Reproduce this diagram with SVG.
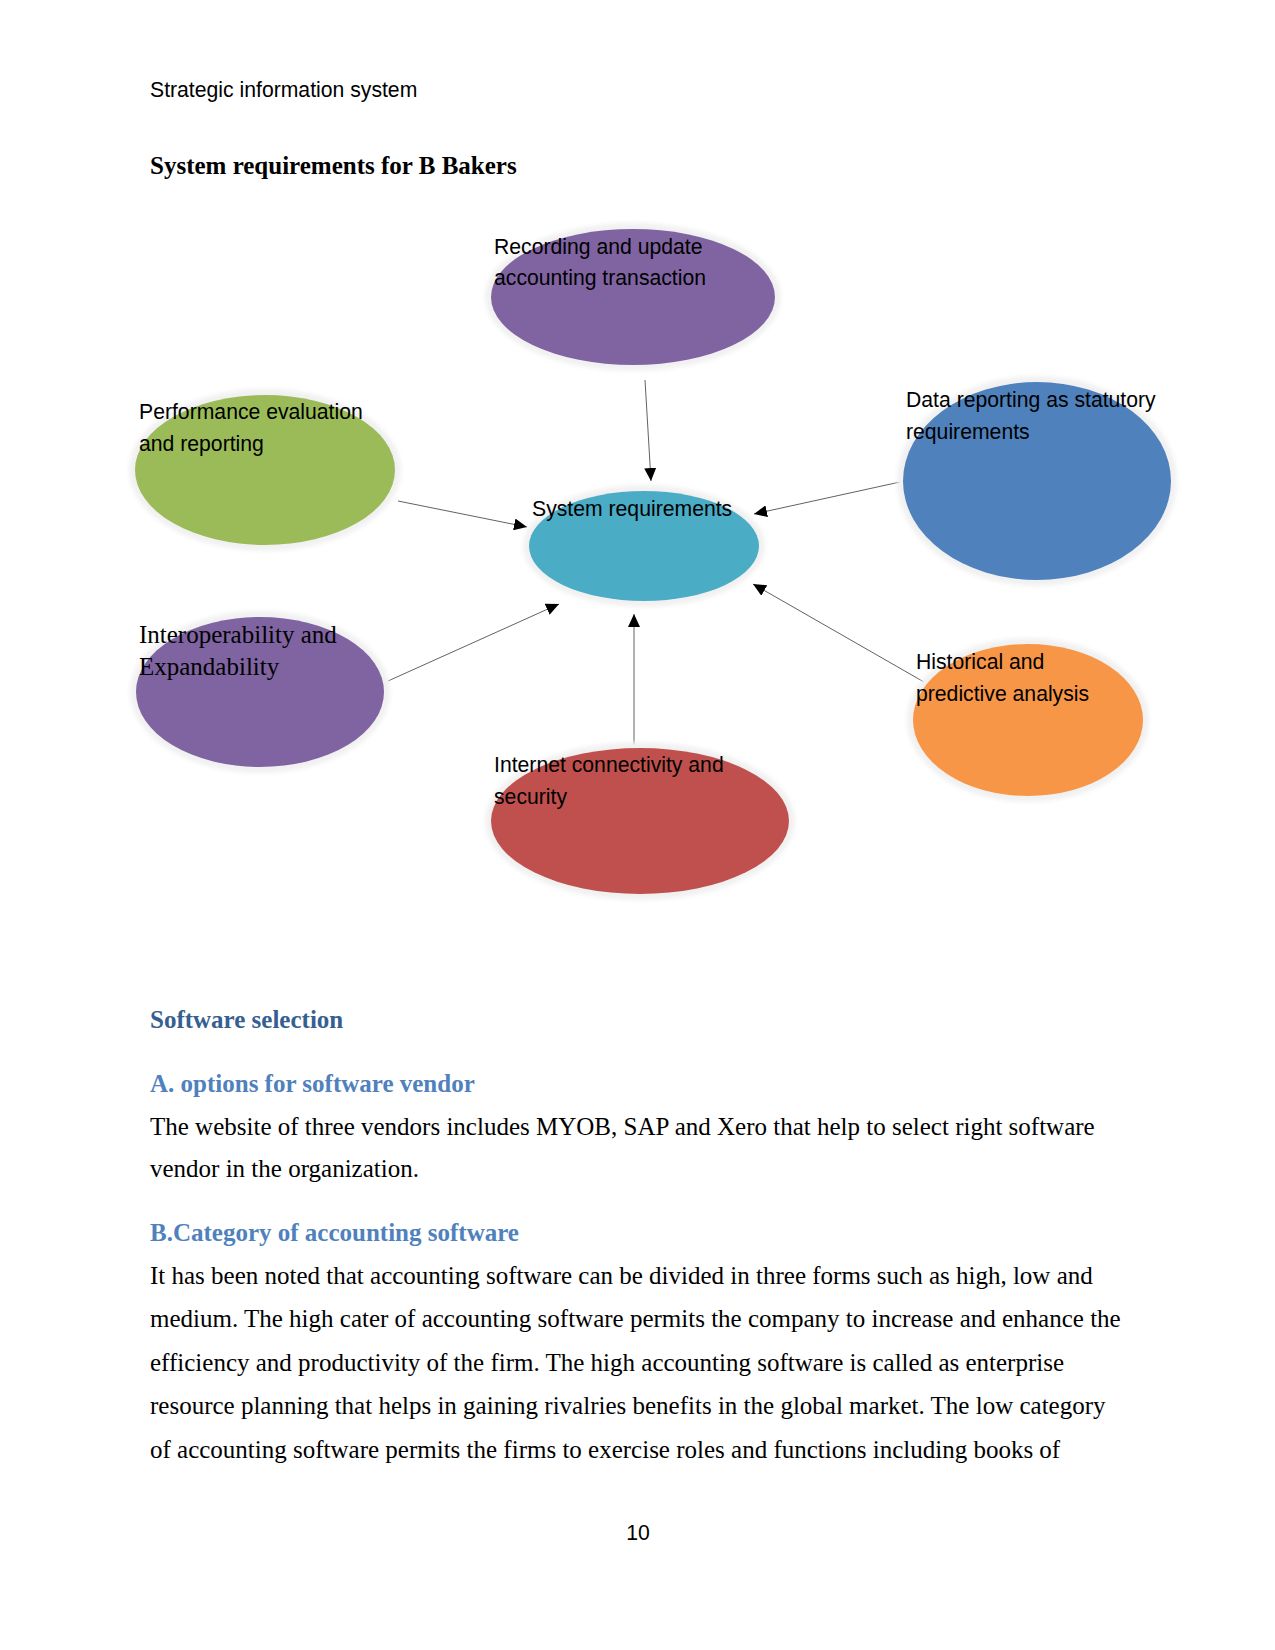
<svg xmlns="http://www.w3.org/2000/svg" width="1275" height="1650" viewBox="0 0 1275 1650">
<style>
.hdr{font-family:"Liberation Sans",Arial,sans-serif;font-size:21.2px;fill:#000}
.title{font-family:"Liberation Serif","Times New Roman",serif;font-size:25px;font-weight:bold;fill:#000}
.h1{font-family:"Liberation Serif","Times New Roman",serif;font-size:25px;font-weight:bold;fill:#365F91}
.h2{font-family:"Liberation Serif","Times New Roman",serif;font-size:25px;font-weight:bold;fill:#4F81BD}
.body{font-family:"Liberation Serif","Times New Roman",serif;font-size:25px;fill:#000}
.lbl{font-family:"Liberation Sans",Arial,sans-serif;font-size:21.2px;fill:#000}
.lbls{font-family:"Liberation Serif","Times New Roman",serif;font-size:25px;fill:#000}
.halo{fill:#F1F1F1;filter:url(#soft)}
.conn{stroke:#3a3a3a;stroke-width:0.8;fill:none;marker-end:url(#arr)}
</style>
<defs>
<filter id="soft" x="-10%" y="-10%" width="120%" height="120%"><feGaussianBlur stdDeviation="2"/></filter>
<marker id="arr" markerUnits="userSpaceOnUse" markerWidth="13" markerHeight="12" refX="13" refY="6" orient="auto"><path d="M0,0 L13,6 L0,12 z" fill="#000"/></marker>
</defs>
<rect width="1275" height="1650" fill="#fff"/>
<text class="hdr" x="150" y="97">Strategic information system</text>
<text class="title" x="150" y="174">System requirements for B Bakers</text>

<g id="connectors">
<line class="conn" x1="645" y1="380" x2="651" y2="481"/>
<line class="conn" x1="900" y1="482" x2="754" y2="514"/>
<line class="conn" x1="398" y1="501" x2="527" y2="527"/>
<line class="conn" x1="388" y1="681" x2="559" y2="604"/>
<line class="conn" x1="634" y1="745" x2="634" y2="614"/>
<line class="conn" x1="924" y1="682" x2="753" y2="584"/>
</g>

<g id="node-recording">
<ellipse class="halo" cx="633" cy="297" rx="148" ry="74"/>
<ellipse cx="633" cy="297" rx="142" ry="68" fill="#8064A2"/>
<text class="lbl" x="494" y="254">Recording and update</text>
<text class="lbl" x="494" y="285">accounting transaction</text>
</g>
<g id="node-performance">
<ellipse class="halo" cx="265" cy="470" rx="136" ry="81"/>
<ellipse cx="265" cy="470" rx="130" ry="75" fill="#9BBB59"/>
<text class="lbl" x="139" y="419">Performance evaluation</text>
<text class="lbl" x="139" y="451">and reporting</text>
</g>
<g id="node-system">
<ellipse class="halo" cx="644" cy="546" rx="121" ry="61"/>
<ellipse cx="644" cy="546" rx="115" ry="55" fill="#4BACC6"/>
<text class="lbl" x="532" y="516">System requirements</text>
</g>
<g id="node-data">
<ellipse class="halo" cx="1037" cy="481" rx="140" ry="105"/>
<ellipse cx="1037" cy="481" rx="134" ry="99" fill="#4F81BD"/>
<text class="lbl" x="906" y="407">Data reporting as statutory</text>
<text class="lbl" x="906" y="439">requirements</text>
</g>
<g id="node-interop">
<ellipse class="halo" cx="260" cy="692" rx="130" ry="81"/>
<ellipse cx="260" cy="692" rx="124" ry="75" fill="#8064A2"/>
<text class="lbls" x="139" y="643">Interoperability and</text>
<text class="lbls" x="139" y="675">Expandability</text>
</g>
<g id="node-internet">
<ellipse class="halo" cx="640" cy="821" rx="155" ry="79"/>
<ellipse cx="640" cy="821" rx="149" ry="73" fill="#C0504D"/>
<text class="lbl" x="494" y="772">Internet connectivity and</text>
<text class="lbl" x="494" y="804">security</text>
</g>
<g id="node-historical">
<ellipse class="halo" cx="1028" cy="720" rx="121" ry="82"/>
<ellipse cx="1028" cy="720" rx="115" ry="76" fill="#F79646"/>
<text class="lbl" x="916" y="669">Historical and</text>
<text class="lbl" x="916" y="701">predictive analysis</text>
</g>

<text class="h1" x="150" y="1028">Software selection</text>
<text class="h2" x="150" y="1092">A. options for software vendor</text>
<text class="body" x="150" y="1135">The website of three vendors includes MYOB, SAP and Xero that help to select right software</text>
<text class="body" x="150" y="1177">vendor in the organization.</text>
<text class="h2" x="150" y="1241">B.Category of accounting software</text>
<text class="body" x="150" y="1284">It has been noted that accounting software can be divided in three forms such as high, low and</text>
<text class="body" x="150" y="1327">medium. The high cater of accounting software permits the company to increase and enhance the</text>
<text class="body" x="150" y="1371">efficiency and productivity of the firm. The high accounting software is called as enterprise</text>
<text class="body" x="150" y="1414">resource planning that helps in gaining rivalries benefits in the global market. The low category</text>
<text class="body" x="150" y="1458">of accounting software permits the firms to exercise roles and functions including books of</text>
<text class="hdr" x="638" y="1540" text-anchor="middle">10</text>
</svg>
